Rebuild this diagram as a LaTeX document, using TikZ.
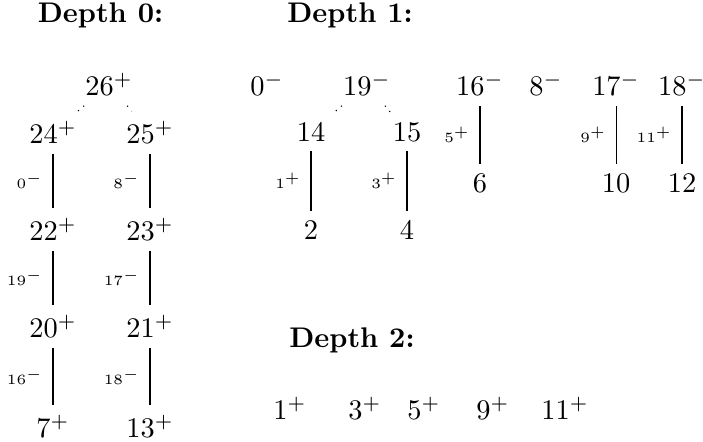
\documentclass[tikz,border=0pt]{standalone}

\begin{document}
\begin{tikzpicture}[
      val/.style  = {inner sep=3.33pt},
      hdr/.style  = {font=\bfseries},
      lbl/.style  = {font=\tiny, left},
      dots/.style = {dotted},
    ]
    \useasboundingbox (0,0) rectangle (8.70,-5.458);

    % --- Colonne (asse X) ---
    \def\xL{0.656}
    \def\xR{1.856}
    \def\xA{3.849}
    \def\xB{5.037}
    \def\xC{5.940}
    \def\xD{7.624}
    \def\xE{8.44}

    % --- Depth 0 ---
    \node[hdr] (h0) at (1.244,-0.186) {Depth 0:};
    \node[val] (r26) at (1.349,-1.045) {$26^+$};
    \node[val] (n24) at (\xL,-1.639) {$24^+$};
    \node[val] (n25) at (\xR,-1.639) {$25^+$};
    \node[val] (n22) at (\xL,-2.839) {$22^+$};
    \node[val] (n23) at (\xR,-2.839) {$23^+$};
    \node[val] (n20) at (\xL,-4.040) {$20^+$};
    \node[val] (n21) at (\xR,-4.040) {$21^+$};
    \node[val] (n7)  at (\xL,-5.277) {$7^+$};
    \node[val] (n13) at (\xR,-5.277) {$13^+$};

    \draw[dots] (r26) -- (n24);
    \draw[dots] (r26) -- (n25);
    \draw (n24) -- node[lbl]{$0^-$} (n22);
    \draw (n25) -- node[lbl]{$8^-$} (n23);
    \draw (n22) -- node[lbl]{$19^-$} (n20);
    \draw (n23) -- node[lbl]{$17^-$} (n21);
    \draw (n20) -- node[lbl]{$16^-$} (n7);
    \draw (n21) -- node[lbl]{$18^-$} (n13);

    % --- Depth 1 ---
    \node[hdr] (h1) at (4.332,-0.186) {Depth 1:};
    \node[val] (m0)  at (3.304,-1.045) {$0^-$};
    \node[val] (m19) at (4.542,-1.045) {$19^-$};
    \node[val] (m14) at (\xA,-1.634) {$14$};
    \node[val] (m15) at (\xB,-1.634) {$15$};
    \node[val] (m2)  at (\xA,-2.847) {$2$};
    \node[val] (m4)  at (\xB,-2.847) {$4$};
    \node[val] (m16) at (\xC,-1.045) {$16^-$};
    \node[val] (m6)  at (\xC,-2.265) {$6$};
    \node[val] (m8)  at (6.757,-1.045) {$8^-$};
    \node[val] (m17) at (\xD,-1.045) {$17^-$};
    \node[val] (m10) at (\xD,-2.265) {$10$};
    \node[val] (m18) at (\xE,-1.045) {$18^-$};
    \node[val] (m12) at (\xE,-2.265) {$12$};

    \draw[dots] (m19) -- (m14);
    \draw[dots] (m19) -- (m15);
    \draw (m14) -- node[lbl]{$1^+$} (m2);
    \draw (m15) -- node[lbl]{$3^+$} (m4);
    \draw (m16) -- node[lbl]{$5^+$} (m6);
    \draw (m17) -- node[lbl]{$9^+$} (m10);
    \draw (m18) -- node[lbl]{$11^+$} (m12);

    % --- Depth 2 ---
    \node[hdr] (h2) at (4.356,-4.208) {Depth 2:};
    \foreach \v/\x in {1/3.589, 3/4.517, 5/5.247, 9/6.101, 11/6.992}{
      \node[val] (d\v) at (\x,-5.055) {$\v^+$};
    }

  \end{tikzpicture}
\end{document}
